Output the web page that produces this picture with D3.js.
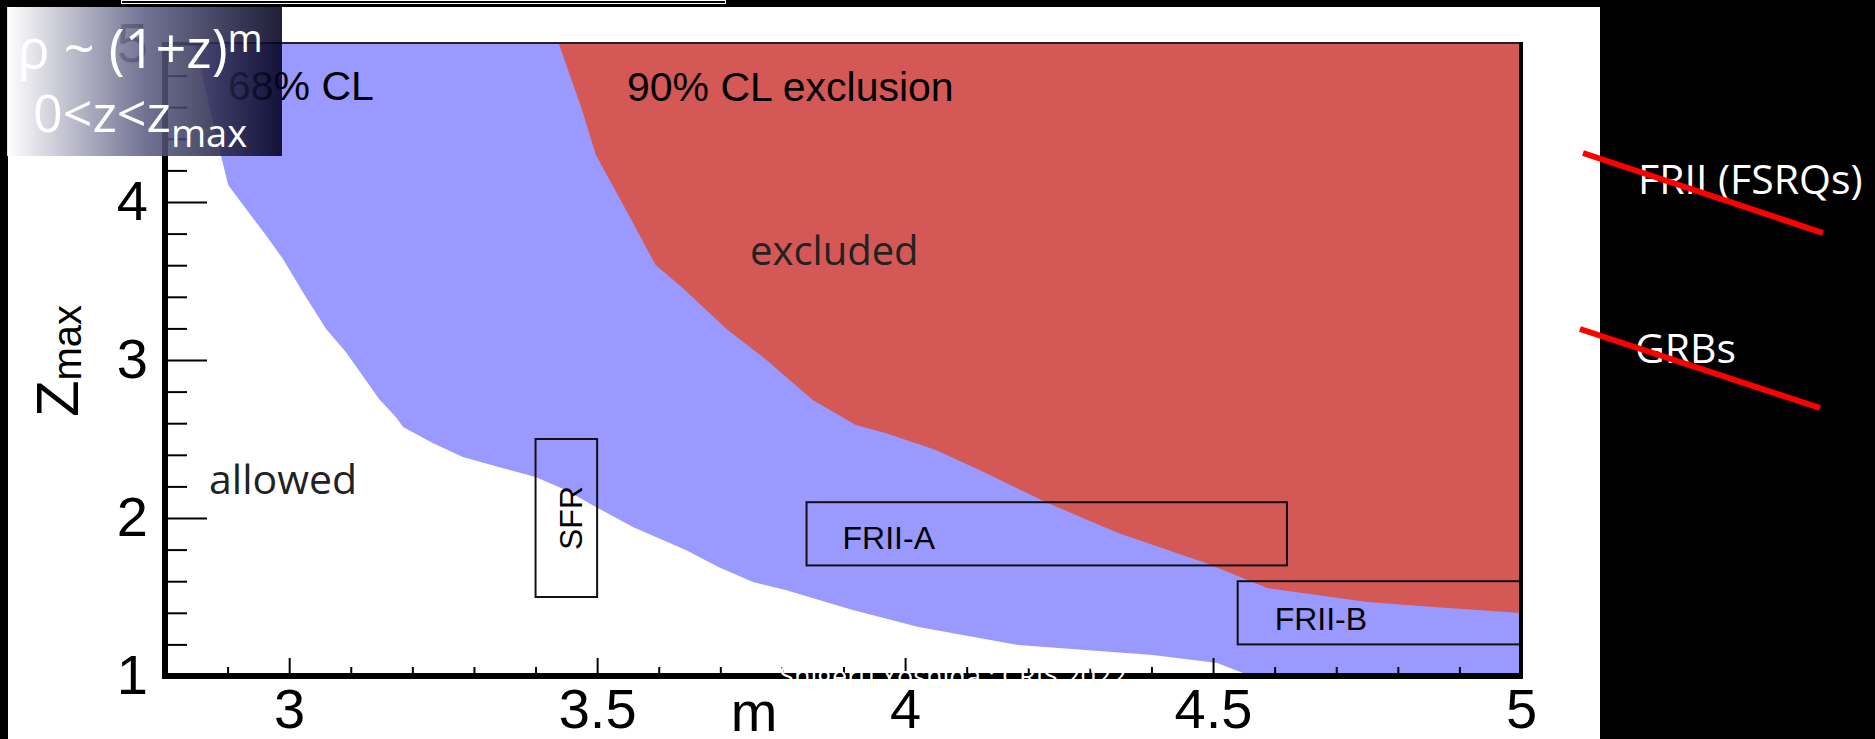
<!DOCTYPE html>
<html>
<head>
<meta charset="utf-8">
<script src="https://cdn.jsdelivr.net/npm/d3@7"></script>
<style>
  html, body { margin: 0; padding: 0; background: #000; overflow: hidden; }
</style>
</head>
<body>
<script>
// lower edge of the 68% CL band (m, z_max)
const blueM = [2.847, 2.889, 2.901, 2.930, 2.962, 2.990, 3.022, 3.060, 3.092, 3.146, 3.173, 3.185, 3.233, 3.282, 3.340,
  3.400, 3.449, 3.498, 3.558, 3.644, 3.697, 3.753, 3.806, 3.915, 4.022, 4.184, 4.293, 4.402, 4.507, 4.561]
const blueZ = [5.0, 4.297, 4.108, 3.956, 3.791, 3.639, 3.430, 3.196, 3.051, 2.753, 2.639, 2.576, 2.475, 2.386, 2.323,
  2.259, 2.177, 2.070, 1.943, 1.797, 1.690, 1.595, 1.544, 1.418, 1.310, 1.196, 1.165, 1.133, 1.082, 1.0]

// edge of the 90% CL exclusion
const redM = [3.438, 3.475, 3.498, 3.546, 3.595, 3.639, 3.710, 3.777, 3.850, 3.920, 3.968, 4.050, 4.131, 4.228,
  4.346, 4.488, 4.588, 4.751, 4.858, 5.0]
const redZ = [5.0, 4.589, 4.297, 3.956, 3.601, 3.456, 3.196, 2.994, 2.747, 2.589, 2.538, 2.430, 2.285, 2.101,
  1.905, 1.715, 1.557, 1.468, 1.437, 1.399]

// source model boxes
const boxNames = ["SFR", "FRII-A", "FRII-B"]
const boxMLo = [3.4, 3.84, 4.54]
const boxMHi = [3.5, 4.62, 5.05]
const boxZLo = [1.5, 1.7, 1.2]
const boxZHi = [2.5, 2.1, 1.6]

const xTicks = [3, 3.5, 4, 4.5, 5]
const yTicks = [1, 2, 3, 4, 5]
const sources = ["FRII (FSRQs)", "GRBs"]

const helv = "'Liberation Sans', Arial, Helvetica, sans-serif"
const ppt = "'Open Sans', 'Noto Sans', sans-serif"

var svg = d3.select("body").append("svg")
    .attr("width", 1875)
    .attr("height", 739)

// slide background
svg.append("rect").attr("x", 8).attr("y", 7).attr("width", 1592).attr("height", 732).attr("fill", "#fff")
svg.append("rect").attr("x", 121.5).attr("y", 0.5).attr("width", 604).attr("height", 3)
    .attr("fill", "none").attr("stroke", "#fff").attr("stroke-width", 1)

var x = d3.scaleLinear().domain([2.8, 5]).range([166, 1521])
var y = d3.scaleLinear().domain([1, 5]).range([676, 44])

svg.append("clipPath").attr("id", "plot")
    .append("rect")
    .attr("x", x(2.8)).attr("y", y(5))
    .attr("width", x(5) - x(2.8)).attr("height", y(1) - y(5))

var line = d3.line()
    .x(d => x(d[0]))
    .y(d => y(d[1]))

var bluePts = blueM.map((m, i) => [m, blueZ[i]])
bluePts.push([5, 1], [5, 5])
var redPts = redM.map((m, i) => [m, redZ[i]])
redPts.push([5, 5])

var plot = svg.append("g").attr("clip-path", "url(#plot)")

plot.append("path")
    .attr("d", line(bluePts) + "Z")
    .attr("fill", "#9999ff")

plot.append("path")
    .attr("d", line(redPts) + "Z")
    .attr("fill", "#d45956")

// model boxes
plot.selectAll("rect.box")
    .data(boxNames)
    .enter()
    .append("rect")
    .attr("class", "box")
    .attr("x", (d, i) => x(boxMLo[i]))
    .attr("y", (d, i) => y(boxZHi[i]))
    .attr("width", (d, i) => x(boxMHi[i]) - x(boxMLo[i]))
    .attr("height", (d, i) => y(boxZLo[i]) - y(boxZHi[i]))
    .attr("fill", "none")
    .attr("stroke", "#111")
    .attr("stroke-width", 2)

// box labels
svg.append("text")
    .attr("transform", "translate(" + ((x(boxMLo[0]) + x(boxMHi[0])) / 2 + 4) + "," + y(2) + ") rotate(-90)")
    .attr("text-anchor", "middle")
    .attr("dy", "0.36em")
    .attr("font-family", helv).attr("font-size", 32)
    .text(boxNames[0])
svg.append("text")
    .attr("x", x(boxMLo[1]) + 36).attr("y", y(boxZLo[1]) - 16)
    .attr("font-family", helv).attr("font-size", 32)
    .text(boxNames[1])
svg.append("text")
    .attr("x", x(boxMLo[2]) + 37).attr("y", y(boxZLo[2]) - 14)
    .attr("font-family", helv).attr("font-size", 32)
    .text(boxNames[2])

// frame
svg.append("line").attr("x1", x(2.8)).attr("x2", x(5)).attr("y1", y(5) - 1).attr("y2", y(5) - 1)
    .attr("stroke", "#222").attr("stroke-width", 2)
svg.append("line").attr("x1", x(5)).attr("x2", x(5)).attr("y1", y(5) - 2).attr("y2", y(1))
    .attr("stroke", "#000").attr("stroke-width", 4)

// axes
var yAxis = svg.append("g")
    .attr("transform", "translate(165,0)")
    .call(d3.axisLeft(y).tickValues(yTicks).tickSize(-42).tickPadding(17).tickFormat(d3.format("")))
var yMinor = svg.append("g")
    .attr("transform", "translate(165,0)")
    .call(d3.axisLeft(y).tickValues(d3.range(1.2, 4.9, 0.2).filter(v => Math.abs(v - Math.round(v)) > 0.01))
        .tickSize(-22).tickFormat(""))

var xAxis = svg.append("g")
    .attr("transform", "translate(0,676)")
    .call(d3.axisBottom(x).tickValues(xTicks).tickSize(-18).tickPadding(12).tickFormat(d3.format("")))
var xMinor = svg.append("g")
    .attr("transform", "translate(0,676)")
    .call(d3.axisBottom(x).tickValues(d3.range(2.9, 5, 0.1).filter(v => Math.abs(v * 2 - Math.round(v * 2)) > 0.01))
        .tickSize(-9).tickFormat(""))

svg.selectAll(".domain").remove()
svg.selectAll(".tick line").attr("stroke", "#000").attr("stroke-width", 2)
svg.selectAll(".tick text").attr("font-family", helv).attr("font-size", 56).attr("fill", "#000")

svg.append("line").attr("x1", 165).attr("x2", 165).attr("y1", y(5) - 2).attr("y2", 679)
    .attr("stroke", "#000").attr("stroke-width", 6)
svg.append("line").attr("x1", 162).attr("x2", x(5) + 2).attr("y1", 676).attr("y2", 676)
    .attr("stroke", "#000").attr("stroke-width", 6)

// axis titles
svg.append("text")
    .attr("x", 754).attr("y", 731)
    .attr("text-anchor", "middle")
    .attr("font-family", helv).attr("font-size", 56)
    .text("m")

var yt = svg.append("text")
    .attr("transform", "translate(78,361) rotate(-90)")
    .attr("text-anchor", "middle")
    .attr("font-family", helv).attr("font-size", 60)
yt.append("tspan").text("Z")
yt.append("tspan").attr("font-size", 40).attr("dy", 3).text("max")

// region labels
svg.append("text").attr("x", 228).attr("y", 100)
    .attr("font-family", helv).attr("font-size", 41).text("68% CL")
svg.append("text").attr("x", 627).attr("y", 101)
    .attr("font-family", helv).attr("font-size", 41).text("90% CL exclusion")
svg.append("text").attr("x", 750).attr("y", 265)
    .attr("font-family", ppt).attr("font-size", 40).attr("fill", "#222").text("excluded")
svg.append("text").attr("x", 209).attr("y", 494)
    .attr("font-family", ppt).attr("font-size", 41).attr("fill", "#222").text("allowed")

// footer (white, only shows over the axis bar)
svg.append("text").attr("x", 953).attr("y", 686)
    .attr("text-anchor", "middle")
    .attr("font-family", ppt).attr("font-size", 27).attr("fill", "#fff")
    .text("Shigeru Yoshida : CRIS 2022")

// formula box
var grad = svg.append("defs").append("linearGradient").attr("id", "fade")
grad.append("stop").attr("offset", "0").attr("stop-color", "#ffffff")
grad.append("stop").attr("offset", "0.5").attr("stop-color", "#5f5f85")
grad.append("stop").attr("offset", "1").attr("stop-color", "#00001e")

svg.append("rect")
    .attr("x", 7).attr("y", 7).attr("width", 275).attr("height", 149)
    .attr("fill", "url(#fade)").attr("opacity", 0.88)

var f1 = svg.append("text").attr("x", 140).attr("y", 68)
    .attr("text-anchor", "middle")
    .attr("font-family", ppt).attr("font-size", 54).attr("fill", "#fff")
f1.append("tspan").text("ρ ~ (1+z)")
f1.append("tspan").attr("font-size", 38).attr("dy", -16).text("m")

var f2 = svg.append("text").attr("x", 140).attr("y", 132)
    .attr("text-anchor", "middle")
    .attr("font-family", ppt).attr("font-size", 52).attr("fill", "#fff")
f2.append("tspan").text("0<z<z")
f2.append("tspan").attr("font-size", 38).attr("dy", 15).text("max")

// source list on the right, struck out
const srcY = [194, 363]
const srcX = [1638, 1635]
sources.forEach((s, i) => {
    svg.append("text")
        .attr("x", srcX[i]).attr("y", srcY[i])
        .attr("font-family", ppt).attr("font-size", 41).attr("fill", "#fff")
        .text(s)
    svg.append("line")
        .attr("x1", srcX[i] - 55).attr("y1", srcY[i] - 41 + i * 7)
        .attr("x2", srcX[i] + 185).attr("y2", srcY[i] + 39 + i * 6)
        .attr("stroke", "#ff0000").attr("stroke-width", 6)
})
</script>
</body>
</html>
